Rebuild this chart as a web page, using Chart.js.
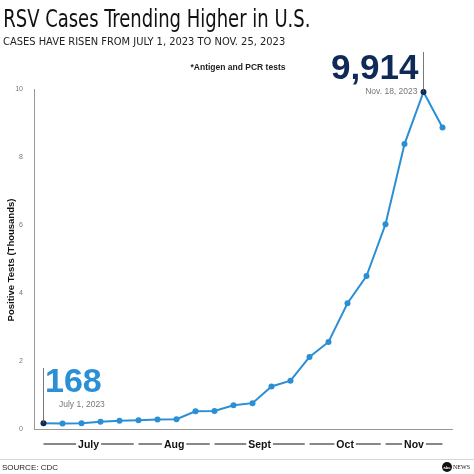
<!DOCTYPE html>
<html>
<head>
<meta charset="utf-8">
<script src="https://cdn.jsdelivr.net/npm/chart.js@4"></script>
<style>
  html, body { margin: 0; padding: 0; background: #fff; }
  #wrap { width: 474px; height: 474px; position: relative; }
</style>
</head>
<body>
<div id="wrap"><canvas id="chart" width="474" height="474"></canvas></div>
<script>
// weekly positive tests, thousands (Jul 1 - Nov 25, 2023)
const weeks = [0,1,2,3,4,5,6,7,8,9,10,11,12,13,14,15,16,17,18,19,20,21];
const cases = [0.168,0.16,0.17,0.21,0.24,0.26,0.28,0.29,0.52,0.53,0.70,0.76,1.25,1.42,2.12,2.56,3.70,4.50,6.02,8.38,9.914,8.87];
const yTicks = [0,2,4,6,8,10];
const months = ['July','Aug','Sept','Oct','Nov'];
const monthStart = [0,5,9,14,18];
const monthEnd = [4.75,8.75,13.75,17.75,21];

const lineBlue = '#2a8fd4';
const navy = '#0f2a57';

const decor = {
  id: 'decor',
  afterDraw(chart) {
    const c = chart.ctx, x = chart.scales.x, y = chart.scales.y;
    c.save();
    // header
    c.fillStyle = '#111';
    c.textBaseline = 'alphabetic';
    c.save();
    c.scale(0.8, 1);
    c.font = '25px "DejaVu Sans Condensed", "Liberation Sans", sans-serif';
    c.fillText('RSV Cases Trending Higher in U.S.', 4, 27);
    c.restore();
    c.font = '11px "DejaVu Sans Condensed", "Liberation Sans", sans-serif';
    c.fillStyle = '#222';
    c.fillText('CASES HAVE RISEN FROM JULY 1, 2023 TO NOV. 25, 2023', 3, 45);
    c.font = 'bold 8.5px "Liberation Sans", sans-serif';
    c.textAlign = 'center';
    c.fillText('*Antigen and PCR tests', 238, 70);

    // y title
    c.save();
    c.translate(14, 260);
    c.rotate(-Math.PI / 2);
    c.font = 'bold 9.5px "Liberation Sans", sans-serif';
    c.fillStyle = '#111';
    c.fillText('Positive Tests (Thousands)', 0, 0);
    c.restore();

    // month labels with dashes
    const my = 444;
    c.font = 'bold 10.5px "Liberation Sans", sans-serif';
    c.strokeStyle = '#111';
    c.lineWidth = 1;
    months.forEach((m, i) => {
      const a = x.getPixelForValue(monthStart[i]), b = x.getPixelForValue(monthEnd[i]);
      const mid = (a + b) / 2, w = c.measureText(m).width / 2 + 2;
      c.fillStyle = '#111';
      c.fillText(m, mid, my + 4);
      c.beginPath();
      c.moveTo(a, my); c.lineTo(mid - w, my);
      c.moveTo(mid + w, my); c.lineTo(b, my);
      c.stroke();
    });

    // start annotation
    const x0 = x.getPixelForValue(0), y0 = y.getPixelForValue(cases[0]);
    c.strokeStyle = '#555'; c.lineWidth = 0.8;
    c.beginPath(); c.moveTo(x0, y0); c.lineTo(x0, 368); c.stroke();
    c.textAlign = 'left';
    c.fillStyle = lineBlue;
    c.font = 'bold 34px "Liberation Sans", sans-serif';
    c.fillText('168', 45, 392);
    c.fillStyle = '#777';
    c.font = '8.5px "Liberation Sans", sans-serif';
    c.fillText('July 1, 2023', 59, 407);

    // peak annotation
    const xp = x.getPixelForValue(20), yp = y.getPixelForValue(cases[20]);
    c.beginPath(); c.moveTo(xp, yp); c.lineTo(xp, 52); c.stroke();
    c.textAlign = 'right';
    c.fillStyle = navy;
    c.font = 'bold 35px "Liberation Sans", sans-serif';
    c.fillText('9,914', xp - 5, 79);
    c.fillStyle = '#777';
    c.font = '8.5px "Liberation Sans", sans-serif';
    c.fillText('Nov. 18, 2023', xp - 6, 94);

    // footer
    c.strokeStyle = '#ccc'; c.lineWidth = 0.8;
    c.beginPath(); c.moveTo(0, 459.5); c.lineTo(474, 459.5); c.stroke();
    c.textAlign = 'left';
    c.fillStyle = '#222';
    c.font = '8px "Liberation Sans", sans-serif';
    c.fillText('SOURCE: CDC', 2, 470);
    c.fillStyle = '#111';
    c.beginPath(); c.arc(447, 467, 5, 0, Math.PI * 2); c.fill();
    c.fillStyle = '#fff'; c.font = 'bold 4px "Liberation Sans", sans-serif';
    c.textAlign = 'center'; c.fillText('abc', 447, 468.5);
    c.fillStyle = '#111'; c.font = '6px "Liberation Serif", serif';
    c.textAlign = 'left'; c.fillText('NEWS', 453, 469);
    c.restore();
  }
};

new Chart(document.getElementById('chart'), {
  type: 'line',
  data: {
    datasets: [{
      data: weeks.map((w, i) => ({ x: w, y: cases[i] })),
      borderColor: lineBlue,
      borderWidth: 2,
      pointRadius: 3,
      pointBackgroundColor: cases.map((v, i) => (i === 0 || i === 20) ? navy : lineBlue),
      pointBorderWidth: 0,
      tension: 0
    }]
  },
  options: {
    responsive: false,
    animation: false,
    layout: { padding: { left: 0, top: 89, right: 22, bottom: 45 } },
    plugins: { legend: { display: false }, tooltip: { enabled: false } },
    scales: {
      x: {
        type: 'linear', min: -0.5, max: 21.5,
        grid: { display: false },
        border: { color: '#999', width: 1 },
        ticks: { display: false },
        afterFit(s) { s.height = 0; }
      },
      y: {
        min: 0, max: 10,
        afterBuildTicks(s) { s.ticks = yTicks.map(v => ({ value: v })); },
        grid: { display: false },
        border: { color: '#999', width: 1 },
        ticks: { color: '#777', font: { size: 7, family: 'Liberation Sans' }, padding: 3 },
        afterFit(s) { s.width = 34; }
      }
    }
  },
  plugins: [decor]
});
</script>
</body>
</html>
